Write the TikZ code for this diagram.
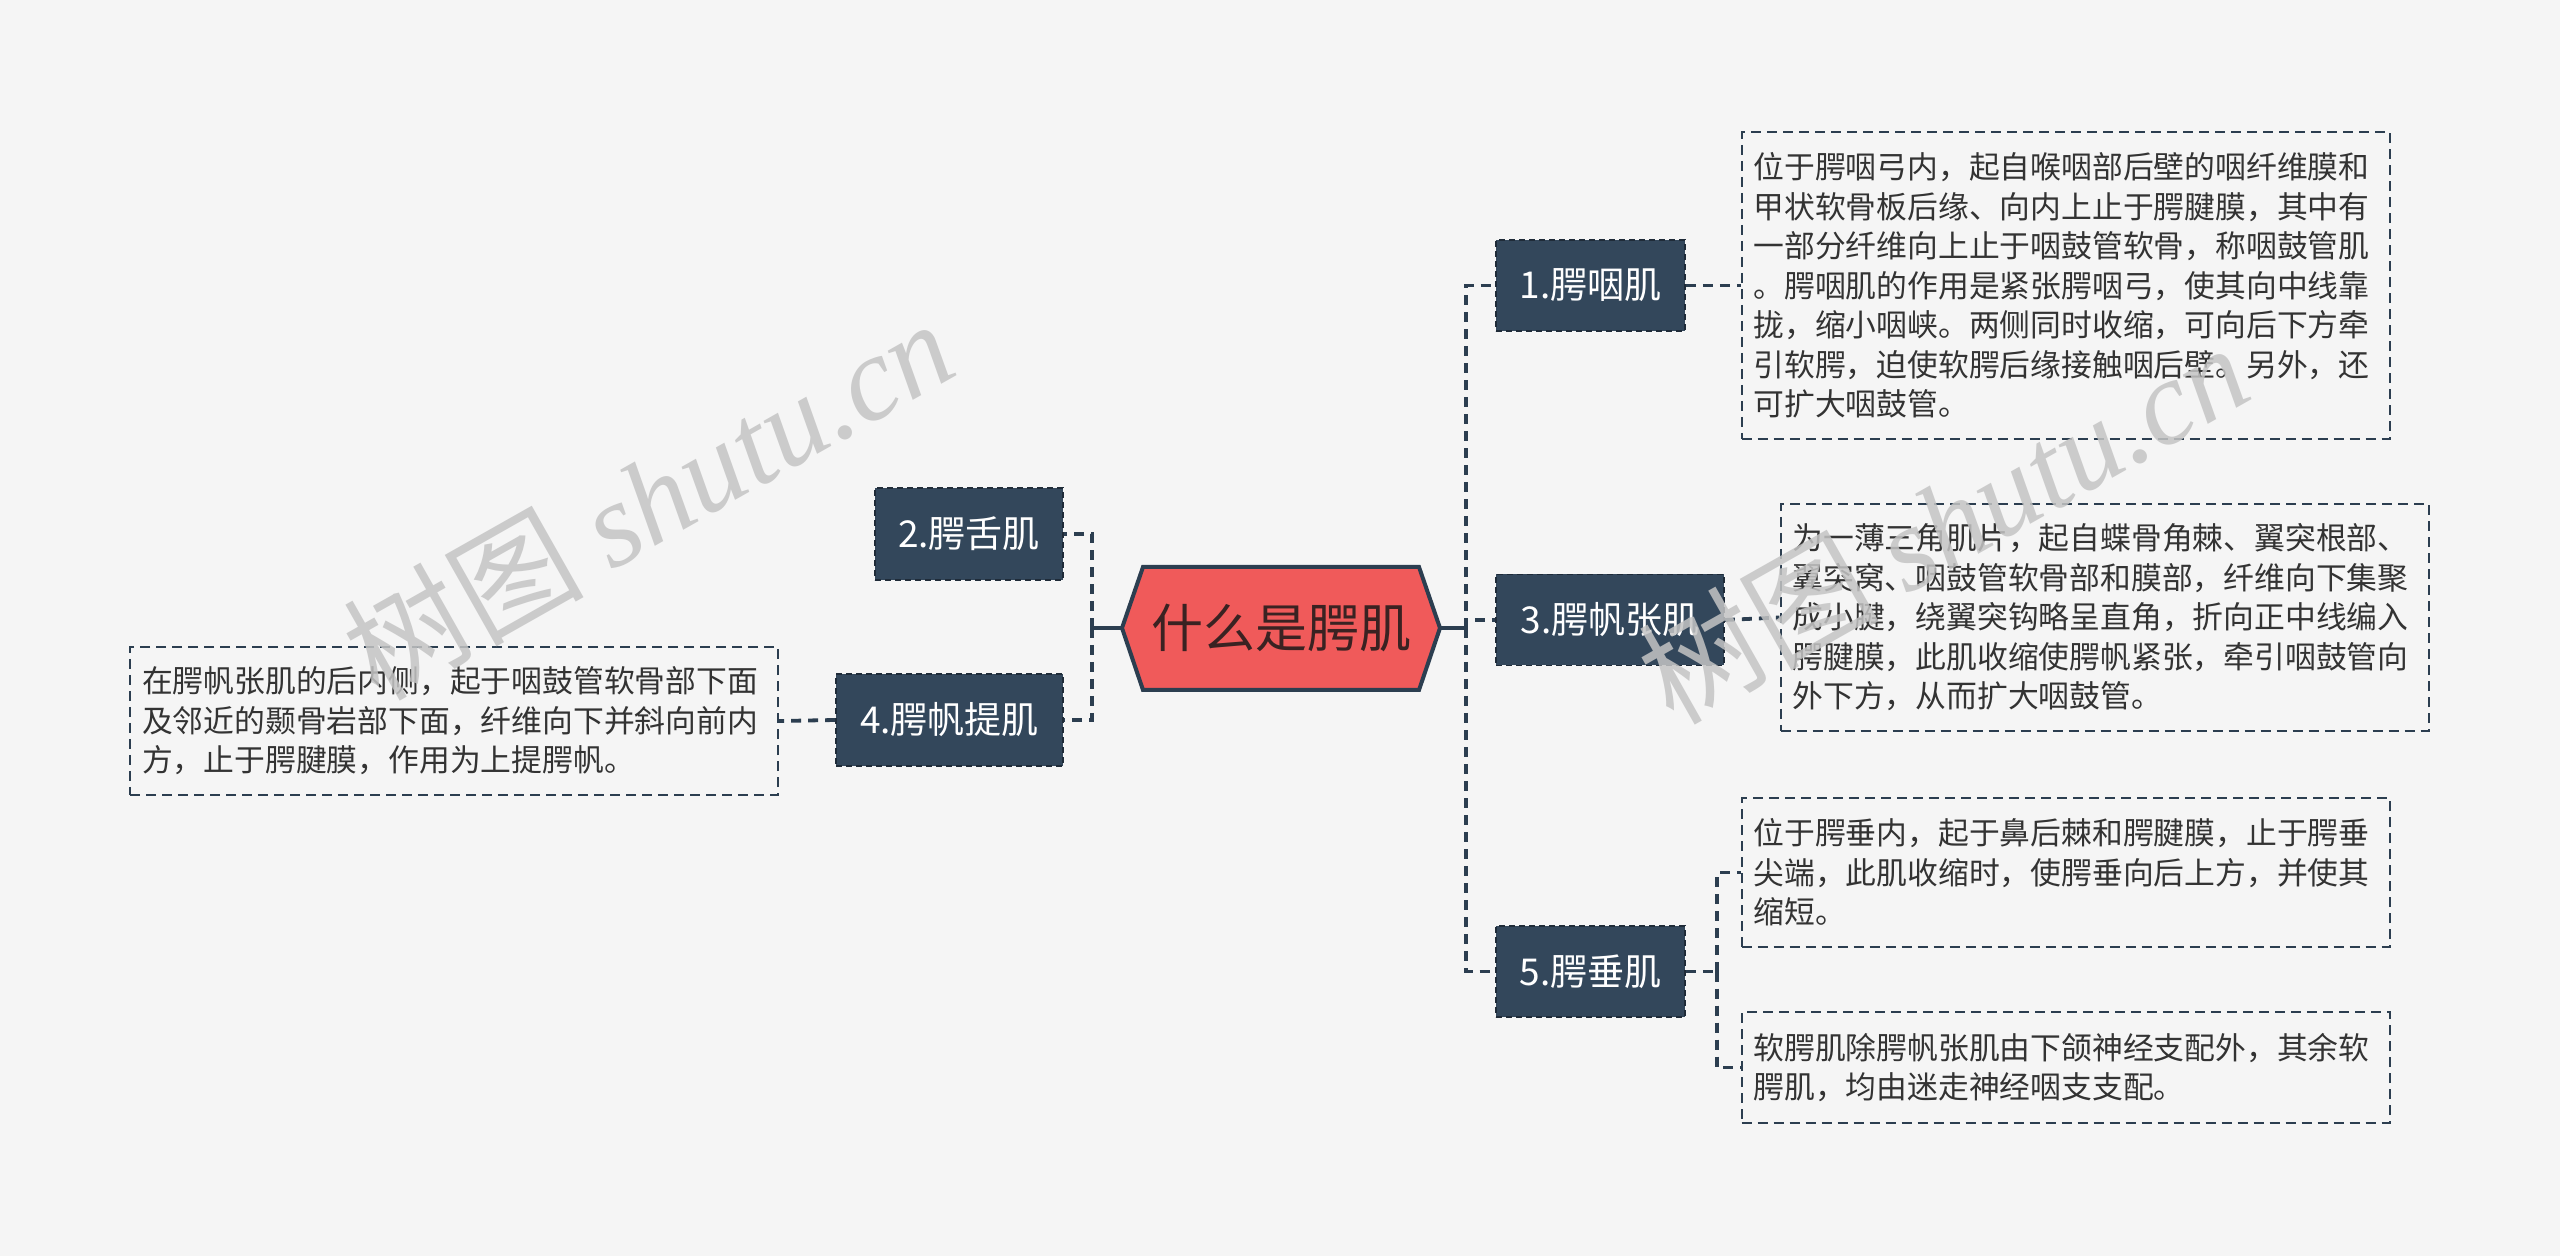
\documentclass[tikz,border=0pt]{standalone}
\usepackage{fontspec}
\setmainfont{Noto Sans CJK SC}
\newfontfamily\wmlatin{Liberation Serif}
\usetikzlibrary{positioning}
\definecolor{bgc}{HTML}{F5F5F5}
\definecolor{nodec}{HTML}{33475B}
\definecolor{linec}{HTML}{2C3E50}
\definecolor{rootc}{HTML}{F05A5A}
\definecolor{txtc}{HTML}{333333}
\definecolor{roottxt}{HTML}{3A2222}
\definecolor{wmc}{HTML}{C4C4C4}
\tikzset{
  branch/.style={rectangle, fill=nodec, draw=linec!70!black, dashed, dash pattern=on 3pt off 2pt, line width=0.9pt,
    text=white, font=\fontsize{18.5pt}{22pt}\selectfont, inner sep=0pt, minimum height=45.5pt},
  desc/.style={rectangle, draw=linec, line width=1pt, dash pattern=on 5pt off 3pt, text=txtc,
    font=\fontsize{15.4pt}{19.75pt}\selectfont, align=left, text width=312pt, inner xsep=6pt, inner ysep=0pt,
    minimum width=323.5pt},
  conn/.style={draw=linec, line width=1.9pt, dash pattern=on 5pt off 3.5pt},
  solidconn/.style={draw=linec, line width=1.9pt},
  wm/.style={text=wmc, opacity=0.85, rotate=29.5, inner sep=0pt}
}
\begin{document}
\begin{tikzpicture}[x=0.5pt, y=-0.5pt]
\useasboundingbox[fill=bgc] (0,0) rectangle (2560,1256);

% root hexagon
\draw[fill=rootc, draw=linec, line width=2pt, line join=miter]
  (1122,628) -- (1143,567) -- (1419,567) -- (1440,628) -- (1419,690) -- (1143,690) -- cycle;
\node[minimum width=159pt, minimum height=61.5pt, inner sep=0pt, text=roottxt,
  font=\fontsize{26pt}{30pt}\selectfont] (root) at (1281,628) {什么是腭肌};

% branch nodes
\node[branch, minimum width=94.5pt] (n1) at (1590.5,285.5) {1.腭咽肌};
\node[branch, minimum width=114pt] (n3) at (1610,620) {3.腭帆张肌};
\node[branch, minimum width=94.5pt] (n5) at (1590.5,971.5) {5.腭垂肌};
\node[branch, minimum width=94pt, minimum height=46pt] (n2) at (969,534) {2.腭舌肌};
\node[branch, minimum width=113.5pt, minimum height=46pt] (n4) at (949.5,720) {4.腭帆提肌};

% description nodes
\node[desc, minimum height=153.5pt] (d1) at (2065.5,285.5) {位于腭咽弓内，起自喉咽部后壁的咽纤维膜和\\甲状软骨板后缘、向内上止于腭腱膜，其中有\\一部分纤维向上止于咽鼓管软骨，称咽鼓管肌\\。腭咽肌的作用是紧张腭咽弓，使其向中线靠\\拢，缩小咽峡。两侧同时收缩，可向后下方牵\\引软腭，迫使软腭后缘接触咽后壁。另外，还\\可扩大咽鼓管。};
\node[desc, minimum height=113.5pt] (d3) at (2104.5,617.5) {为一薄三角肌片，起自蝶骨角棘、翼突根部、\\翼突窝、咽鼓管软骨部和膜部，纤维向下集聚\\成小腱，绕翼突钩略呈直角，折向正中线编入\\腭腱膜，此肌收缩使腭帆紧张，牵引咽鼓管向\\外下方，从而扩大咽鼓管。};
\node[desc, minimum height=74.5pt] (d5a) at (2065.5,872.5) {位于腭垂内，起于鼻后棘和腭腱膜，止于腭垂\\尖端，此肌收缩时，使腭垂向后上方，并使其\\缩短。};
\node[desc, minimum height=55.5pt] (d5b) at (2065.5,1067.5) {软腭肌除腭帆张肌由下颌神经支配外，其余软\\腭肌，均由迷走神经咽支支配。};
\node[desc, minimum height=74pt] (d4) at (454,721) {在腭帆张肌的后内侧，起于咽鼓管软骨部下面\\及邻近的颞骨岩部下面，纤维向下并斜向前内\\方，止于腭腱膜，作用为上提腭帆。};

% junction coordinates
\coordinate (rj) at (1466,628);
\coordinate (lj) at (1092,628);
\coordinate (j5) at (1717,971.5);

% connectors
\draw[solidconn] (root.east) -- (rj);
\draw[conn] (rj) |- (n1.west);
\draw[conn] (rj) |- (n3.west);
\draw[conn] (rj) |- (n5.west);
\draw[conn] (n1.east) -- (d1.west);
\draw[conn] (n3.east) -- (d3.west);
\draw[conn] (n5.east) -- (j5);
\draw[conn] (j5) |- (d5a.west);
\draw[conn] (j5) |- (d5b.west);
\draw[solidconn] (root.west) -- (lj);
\draw[conn] (lj) |- (n2.east);
\draw[conn] (lj) |- (n4.east);
\draw[conn] (n4.west) -- (d4.east);

% watermarks
\node[wm, font=\fontsize{60pt}{64pt}\selectfont] (wm1) at (648,498) {树图 {\wmlatin\itshape shutu.cn}};
\node[wm, font=\fontsize{60pt}{64pt}\selectfont] (wm2) at (1943,522) {树图 {\wmlatin\itshape shutu.cn}};
\end{tikzpicture}
\end{document}
